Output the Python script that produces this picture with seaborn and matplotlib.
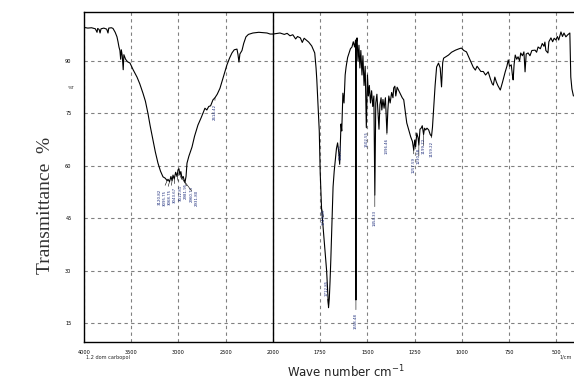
import numpy as np
import matplotlib
matplotlib.use("Agg")
import matplotlib.pyplot as plt
import matplotlib.ticker as mticker
import seaborn as sns

# IR spectrum: wavenumber (cm-1) and %T
wn = [4000, 3960, 3920, 3880, 3862, 3855, 3840, 3830, 3820, 3790, 3760, 3746, 3738, 3710, 3693,
      3670, 3651, 3640, 3630, 3620, 3612, 3605, 3595, 3585, 3578, 3560, 3540, 3513, 3480, 3439,
      3410, 3376, 3350, 3323, 3300, 3270, 3245, 3217, 3190, 3164, 3140, 3120, 3111, 3095, 3080,
      3068, 3058, 3045, 3030, 3015, 3005, 2995, 2985, 2975, 2963, 2950, 2940, 2931, 2920, 2910,
      2890, 2857, 2830, 2794, 2760, 2720, 2700, 2680, 2660, 2635, 2614, 2590, 2561, 2530, 2487,
      2460, 2434, 2410, 2381, 2370, 2360, 2350, 2328, 2310, 2286, 2260, 2212, 2150, 2100, 2063,
      2030, 2000, 1963, 1940, 1925, 1910, 1895, 1880, 1870, 1855, 1845, 1835, 1820, 1811, 1795,
      1785, 1779, 1772, 1768, 1760, 1755, 1750, 1743, 1735, 1728, 1722, 1716, 1712, 1706, 1702,
      1698, 1694, 1690, 1686, 1682, 1676, 1670, 1664, 1658, 1652, 1647, 1640, 1636, 1630, 1624,
      1618, 1613, 1605, 1597, 1590, 1582, 1575, 1568, 1563, 1561, 1559, 1555, 1550, 1545, 1540,
      1535, 1529, 1524, 1518, 1512, 1506, 1500, 1495, 1490, 1484, 1478, 1472, 1466, 1461, 1456,
      1450, 1445, 1439, 1434, 1428, 1424, 1418, 1412, 1405, 1397, 1392, 1387, 1380, 1372, 1365,
      1361, 1355, 1350, 1343, 1334, 1325, 1316, 1308, 1300, 1292, 1280, 1271, 1262, 1255, 1250,
      1245, 1239, 1232, 1228, 1222, 1216, 1210, 1203, 1198, 1192, 1185, 1176, 1168, 1161, 1156,
      1150, 1142, 1134, 1124, 1115, 1108, 1102, 1097, 1085, 1071, 1055, 1034, 1015, 1003, 990,
      976, 963, 950, 940, 929, 920, 913, 900, 887, 875, 861, 850, 840, 834, 826,
      818, 810, 797, 785, 771, 762, 755, 748, 739, 733, 729, 724, 718, 710, 703,
      695, 689, 680, 672, 666, 660, 650, 640, 630, 613, 605, 597, 585, 575, 566,
      561, 556, 545, 540, 529, 520, 512, 503, 495, 488, 476, 468, 460, 450, 440,
      429, 424, 418, 410]
trans = [99.6, 99.4, 99.5, 99.2, 98.2, 99.3, 99.0, 98.0, 99.2, 99.4, 99.1, 98.0, 99.4, 99.5, 99.3,
         98.2, 96.9, 95.5, 94.0, 93.0, 90.5, 93.2, 91.5, 87.5, 91.8, 90.5, 89.8, 89.4, 87.5, 85.4,
         83.5, 80.8, 78.5, 75.0, 71.5, 67.4, 64.0, 60.8, 58.5, 56.9, 56.5, 55.8, 56.2, 55.5, 57.0,
         55.8, 57.4, 56.3, 58.2, 57.0, 58.9, 59.2, 57.5, 58.4, 56.5, 57.0, 55.9, 55.4, 57.0, 60.8,
         62.8, 65.4, 68.5, 71.7, 73.8, 76.5, 76.0, 77.0, 77.2, 78.9, 79.5, 80.5, 82.2, 85.0, 88.9,
         90.8, 92.3, 93.2, 93.4, 91.8, 89.7, 92.0, 93.0, 95.0, 96.9, 97.6, 98.0, 98.2, 98.1, 98.0,
         97.7, 97.7, 98.0, 97.6, 97.9, 97.2, 97.5, 96.3, 97.0, 96.6, 95.3, 96.5, 95.8, 95.4, 94.3,
         93.0, 92.3, 88.0, 84.6, 76.0, 70.0, 58.0, 48.0, 42.6, 38.0, 34.0, 30.0, 26.0, 19.5, 22.0,
         27.0, 33.0, 40.0, 47.4, 54.0, 58.5, 61.7, 65.0, 66.6, 64.0, 60.5, 72.0, 70.0, 80.8, 78.0,
         86.0, 88.3, 91.0, 92.3, 93.5, 94.0, 95.5, 94.0, 96.0, 21.7, 95.0, 96.6, 90.0, 94.5, 88.0,
         93.0, 86.0, 91.5, 83.0, 88.5, 71.0, 86.0, 80.0, 83.0, 78.0, 81.5, 77.0, 80.0, 51.7, 78.0,
         80.5, 76.0, 70.5, 77.5, 79.5, 76.0, 79.0, 76.5, 79.5, 69.5, 76.0, 80.0, 78.0, 81.0, 79.5,
         82.3, 82.8, 80.0, 82.5, 81.5, 80.5, 79.5, 78.9, 75.5, 72.3, 70.0, 68.3, 67.0, 64.5, 67.4,
         65.5, 69.4, 68.0, 66.0, 70.5, 70.8, 71.5, 69.0, 70.8, 70.3, 70.8, 70.3, 69.0, 68.5, 71.0,
         76.0, 83.0, 88.3, 89.4, 88.0, 82.6, 89.5, 90.8, 91.2, 91.7, 92.5, 93.1, 93.5, 93.7, 93.0,
         92.6, 91.0, 89.4, 88.2, 87.4, 88.5, 88.0, 87.0, 87.0, 86.0, 86.9, 85.0, 83.5, 83.1, 85.4,
         84.0, 83.0, 81.7, 84.0, 86.9, 88.5, 90.3, 88.5, 88.9, 86.0, 84.6, 89.0, 91.7, 90.5, 91.2,
         90.0, 92.3, 91.5, 92.6, 86.9, 92.0, 92.3, 91.5, 93.0, 93.1, 92.5, 94.0, 93.5, 95.0, 94.2,
         95.4, 93.0, 92.3, 95.5, 96.6, 95.5, 96.5, 96.0, 97.0, 96.0, 98.3, 97.0, 98.0, 96.9, 97.5,
         98.0, 85.4, 82.0, 80.0]

# peak labels
peak_wn = [3120, 3095, 3068, 3045, 3015, 2985, 2963, 2931, 2614,
           1743, 1706, 1647, 1561, 1506, 1461, 1397, 1255, 1228, 1203, 1161]
peak_T = [55.8, 55.5, 55.8, 56.3, 57.0, 57.5, 56.5, 55.4, 79.5,
          48.0, 19.5, 60.5, 21.7, 71.0, 51.7, 69.5, 64.5, 66.0, 69.0, 68.5]
peak_txt = ["3120.82", "3095.75", "3068.75", "3043.67", "3012.81", "2981.95", "2960.73", "2931.80",
            "2614.42", "1743.65", "1712.85", "1647.21", "1558.48", "1502.55", "1454.33", "1396.46",
            "1257.59", "1230.58", "1199.72", "1159.22"]
# label offsets in pixels (dx, dy)
lab_off = [(-7, -7), (-4.5, -7), (-2, -7), (1, -7), (4, -7), (6, -7), (10, -7), (12, -7), (0, -5),
           (2, 0), (-2, 29), (1, 21), (0, -12), (0, -3), (0, -14), (0, -4), (0, -6), (0, -2), (0, -2), (0, -4)]

xmajor = [4000, 3500, 3000, 2500, 2000, 1750, 1500, 1250, 1000, 750, 500]
xminor = list(range(4000, 2000, -100)) + list(range(2000, 400, -50))
ymajor = [15, 30, 45, 60, 75, 90]
yminor = list(range(12, 104, 3))


def fwd(x):
    x = np.asarray(x, dtype=float)
    return np.where(x >= 2000, x, 2 * x - 2000)


def inv(u):
    u = np.asarray(u, dtype=float)
    return np.where(u >= 2000, u, (u + 2000) / 2)


sns.set_style("white")
fig = plt.figure(figsize=(5.74, 3.80), dpi=100)
ax = fig.add_axes([84 / 574, 38 / 380, 1 - 84 / 574, (342 - 12) / 380])

ax.set_xscale("function", functions=(fwd, inv))
sns.lineplot(x=wn, y=trans, sort=False, estimator=None, color="black", lw=0.8, ax=ax)
ax.set_xlim(4000, 407)
ax.set_ylim(9.7, 104)

ax.xaxis.set_major_locator(mticker.FixedLocator(xmajor))
ax.xaxis.set_minor_locator(mticker.FixedLocator(xminor))
ax.xaxis.set_major_formatter(mticker.FuncFormatter(lambda v, p: "%d" % round(v)))
ax.xaxis.set_minor_formatter(mticker.NullFormatter())
ax.yaxis.set_major_locator(mticker.FixedLocator(ymajor))
ax.yaxis.set_minor_locator(mticker.FixedLocator(yminor))

ax.grid(True, which="major", color="#808080", linestyle=(0, (3, 3)), lw=0.8)
ax.axvline(2000, color="black", lw=1)

ax.tick_params(axis="both", which="major", direction="out", length=3, width=0.8, labelsize=3.6, colors="black")
ax.tick_params(axis="both", which="minor", direction="out", length=2, width=0.8)
ax.tick_params(axis="y", which="major", pad=6)
ax.tick_params(axis="x", which="major", pad=3)
for s in ["left", "bottom", "top"]:
    ax.spines[s].set_color("black")
    ax.spines[s].set_linewidth(1)
ax.spines["right"].set_visible(False)
ax.set_xlabel("")
ax.set_ylabel("")

px2pt = 0.72
for w, t, s, (dx, dy) in zip(peak_wn, peak_T, peak_txt, lab_off):
    ax.annotate(s, xy=(w, t), xytext=(dx * px2pt, (dy - 1) * px2pt), textcoords="offset points",
                rotation=90, ha="center", va="top", fontsize=2.8, color="#1a2a7a",
                arrowprops=dict(arrowstyle="-", lw=0.4, color="black", shrinkA=0, shrinkB=0))

fig.text(45 / 574, 1 - 205 / 380, "Transmittance  %", rotation=90, ha="center", va="center",
         fontsize=14, family="Liberation Serif", color="#333333")
fig.text(346 / 574, 1 - 372 / 380, "Wave number cm$^{-1}$", ha="center", va="center", fontsize=8.5,
         color="#222222")
fig.text(71 / 574, 1 - 88 / 380, "%T", ha="center", va="center", fontsize=3.2)
fig.text(86 / 574, 1 - 357 / 380, "1.2 dom carbopol", ha="left", va="center", fontsize=3.6)
fig.text(572 / 574, 1 - 357 / 380, "1/cm", ha="right", va="center", fontsize=3.6)

fig.savefig("out.png", dpi=100)
